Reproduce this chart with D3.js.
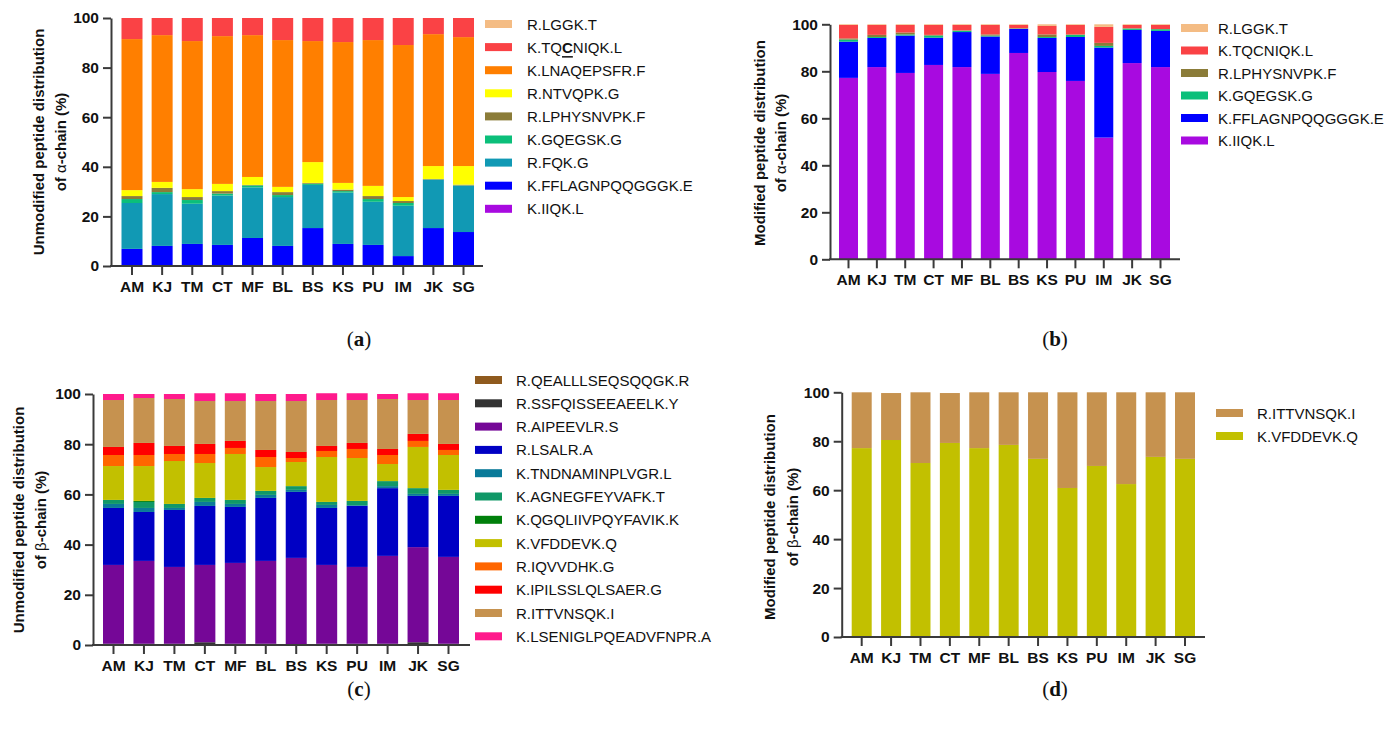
<!DOCTYPE html>
<html>
<head>
<meta charset="utf-8">
<script src="https://cdn.jsdelivr.net/npm/d3@7"></script>
<style>
  body { margin: 0; background: #fff; }
  svg { display: block; }
  text { font-family: Arial, "Liberation Sans", sans-serif; fill: #111; }
</style>
</head>
<body>
<svg id="chart" width="1389" height="733"></svg>
<script>
var samples = ["AM", "KJ", "TM", "CT", "MF", "BL", "BS", "KS", "PU", "IM", "JK", "SG"];
var yTicks = [0, 20, 40, 60, 80, 100];

// (a) unmodified alpha-chain peptides, bottom of the stack first
var alphaUnmodPeptides = ["K.IIQK.L", "K.FFLAGNPQQGGGK.E", "R.FQK.G", "K.GQEGSK.G", "R.LPHYSNVPK.F",
                          "R.NTVQPK.G", "K.LNAQEPSFR.F", "K.TQCNIQK.L", "R.LGGK.T"];
var aIIQK   = [0, 0, 0, 0, 0, 0, 0, 0, 0, 0, 0, 0];
var aFFLAG  = [6.9, 8.1, 8.9, 8.5, 11.3, 8.1, 15.3, 8.9, 8.5, 4.0, 15.3, 13.7];
var aFQK    = [18.5, 20.9, 16.2, 19.9, 20.4, 19.7, 17.4, 20.7, 17.4, 20.3, 19.5, 18.7];
var aGQEGSK = [1.6, 0.8, 1.5, 0.8, 0.8, 0.8, 0.5, 0.6, 1.1, 1.1, 0.1, 0.1];
var aLPHYS  = [1.2, 1.7, 1.2, 1.0, 0.2, 1.2, 0.3, 0.6, 1.2, 0.8, 0.2, 0.3];
var aNTVQPK = [2.4, 2.4, 3.2, 2.9, 3.2, 2.1, 8.4, 2.7, 4.1, 1.6, 5.2, 7.5];
var aLNAQ   = [60.9, 59.2, 59.7, 59.6, 57.2, 59.2, 48.8, 56.8, 58.8, 61.3, 53.2, 52.0];
var aTQCN   = [8.5, 6.9, 9.3, 7.3, 6.9, 8.9, 9.3, 9.7, 8.9, 10.9, 6.5, 7.7];
var aLGGK   = [0, 0, 0, 0, 0, 0, 0, 0, 0, 0, 0, 0];

// (b) modified alpha-chain peptides
var alphaModPeptides = ["K.IIQK.L", "K.FFLAGNPQQGGGK.E", "K.GQEGSK.G", "R.LPHYSNVPK.F", "K.TQCNIQK.L", "R.LGGK.T"];
var bIIQK   = [77.2, 81.8, 79.3, 82.7, 81.8, 78.9, 87.8, 79.7, 75.9, 51.8, 83.5, 81.8];
var bFFLAG  = [15.4, 12.4, 15.9, 11.6, 14.9, 15.9, 10.2, 14.5, 18.7, 38.3, 14.1, 15.4];
var bGQEGSK = [0.9, 0.4, 0.5, 0.9, 0.6, 0.4, 0.2, 0.4, 0.9, 0.7, 0.6, 0.7];
var bLPHYS  = [0.5, 0.9, 0.8, 0.3, 0.1, 0.5, 0.1, 1.1, 0.2, 1.3, 0.1, 0.1];
var bTQCN   = [5.7, 4.2, 3.2, 4.2, 2.3, 4.0, 1.4, 3.6, 4.0, 6.8, 1.4, 1.7];
var bLGGK   = [0.3, 0.3, 0.3, 0.3, 0.3, 0.3, 0.3, 0.7, 0.3, 1.1, 0.3, 0.3];

// (c) unmodified beta-chain peptides
var betaUnmodPeptides = ["R.QEALLLSEQSQQGK.R", "R.SSFQISSEEAEELK.Y", "R.AIPEEVLR.S", "R.LSALR.A",
                         "K.TNDNAMINPLVGR.L", "K.AGNEGFEYVAFK.T", "K.QGQLIIVPQYFAVIK.K", "K.VFDDEVK.Q",
                         "R.IQVVDHK.G", "K.IPILSSLQLSAER.G", "R.ITTVNSQK.I", "K.LSENIGLPQEADVFNPR.A"];
var cQEAL  = [0.2, 0.2, 0.2, 0.3, 0.2, 0.2, 0.1, 0.2, 0.2, 0.2, 0.3, 0.2];
var cSSFQ  = [0.3, 0.3, 0.3, 0.8, 0.3, 0.3, 0.2, 0.3, 0.3, 0.3, 0.8, 0.3];
var cAIPE  = [31.4, 33.0, 30.6, 30.8, 32.2, 33.0, 34.4, 31.4, 30.6, 35.0, 37.9, 34.6];
var cLSALR = [22.7, 19.5, 22.7, 23.5, 22.3, 25.1, 26.3, 22.7, 24.3, 27.0, 20.4, 24.3];
var cTNDN  = [1.6, 1.6, 0.8, 1.6, 1.2, 1.2, 0.8, 1.2, 0.3, 0.8, 0.8, 0.8];
var cAGNE  = [1.6, 2.4, 1.6, 1.6, 1.6, 1.6, 1.5, 1.2, 1.7, 2.0, 2.3, 1.6];
var cQGQL  = [0, 0.4, 0, 0, 0, 0, 0, 0, 0, 0, 0, 0];
var cVFDD  = [13.5, 13.9, 17.1, 13.9, 18.3, 9.5, 9.6, 17.9, 17.1, 6.8, 16.4, 13.9];
var cIQVV  = [4.4, 4.4, 2.8, 3.6, 2.4, 4.0, 1.6, 2.4, 3.6, 3.6, 2.4, 2.0];
var cIPIL  = [3.2, 4.8, 3.2, 4.0, 2.8, 2.8, 2.4, 2.0, 2.4, 2.4, 2.8, 2.4];
var cITTV  = [18.7, 17.9, 18.7, 17.1, 15.9, 19.5, 20.3, 18.3, 17.1, 19.9, 13.5, 17.5];
var cLSEN  = [2.4, 1.6, 2.0, 3.1, 3.1, 2.8, 2.8, 2.7, 2.7, 2.0, 2.7, 2.7];

// (d) modified beta-chain peptides
var betaModPeptides = ["K.VFDDEVK.Q", "R.ITTVNSQK.I"];
var dVFDD = [77.2, 80.5, 71.1, 79.3, 77.2, 78.5, 72.8, 60.9, 69.9, 62.5, 73.6, 72.8];
var dITTV = [22.8, 19.2, 28.9, 20.4, 22.8, 21.5, 27.2, 39.1, 30.1, 37.5, 26.4, 27.2];

var svg = d3.select("#chart");

function drawPanel(p) {
    var g = svg.append("g");

    var rows = samples.map(function (s, i) {
        var row = {sample: s};
        p.keys.forEach(function (k, j) { row[k] = p.values[j][i]; });
        return row;
    });
    var series = d3.stack().keys(p.keys)(rows);

    var step = (p.lastCenter - p.firstCenter) / (samples.length - 1);
    var pad = 1 - p.barWidth / step;
    var x = d3.scaleBand()
        .domain(samples)
        .range([p.firstCenter - step / 2, p.lastCenter + step / 2])
        .paddingInner(pad)
        .paddingOuter(pad / 2);
    var y = d3.scaleLinear().domain([0, 100]).range([p.yBottom, p.yTop]);
    var color = d3.scaleOrdinal().domain(p.keys).range(p.colors);

    g.selectAll("g.layer")
        .data(series)
        .enter().append("g")
        .attr("class", "layer")
        .attr("fill", function (d) { return color(d.key); })
        .selectAll("rect")
        .data(function (d) { return d; })
        .enter().append("rect")
        .attr("x", function (d) { return x(d.data.sample); })
        .attr("width", x.bandwidth())
        .attr("y", function (d) { return y(d[1]); })
        .attr("height", function (d) { return Math.max(0, y(d[0]) - y(d[1])); });

    // y axis
    var ya = g.append("g")
        .attr("transform", "translate(" + p.axisX + ",0)")
        .call(d3.axisLeft(y).tickValues(yTicks).tickSize(8).tickSizeOuter(0).tickPadding(4));
    // x axis
    var xa = g.append("g")
        .attr("transform", "translate(0," + p.yBottom + ")")
        .call(d3.axisBottom(x).tickSize(9).tickSizeOuter(0).tickPadding(6));
    xa.select(".domain").remove();
    xa.append("line")
        .attr("x1", p.axisX - 1).attr("x2", p.axisEnd)
        .attr("y1", 0).attr("y2", 0);

    [ya, xa].forEach(function (a) {
        a.selectAll("path, line").attr("stroke", "#3a3a3a").attr("stroke-width", 2);
        a.selectAll("text")
            .attr("fill", "#111")
            .style("font-size", "15.5px")
            .style("font-weight", "bold")
            .style("font-family", "Arial, 'Liberation Sans', sans-serif");
    });

    // y axis title, two lines
    p.yTitle.forEach(function (line, i) {
        var t = g.append("text")
            .attr("transform", "translate(" + p.yTitleX[i] + "," + p.yTitleY + ") rotate(-90)")
            .attr("text-anchor", "middle")
            .attr("dominant-baseline", "central")
            .style("font-size", "15px")
            .style("font-weight", "bold");
        line.forEach(function (part) {
            t.append("tspan")
                .style("font-weight", part.greek ? "normal" : "bold")
                .text(part.t);
        });
    });

    // legend: top of the stack first, unless the panel lists it bottom first
    var items = p.legendBottomFirst ? p.keys.slice() : p.keys.slice().reverse();
    var lg = g.append("g");
    items.forEach(function (k, i) {
        var cy = p.legY + i * p.legDy;
        lg.append("rect")
            .attr("x", p.legX).attr("y", cy - 4)
            .attr("width", 27).attr("height", 8)
            .attr("fill", color(k));
        var t = lg.append("text")
            .attr("x", p.legX + p.legGap).attr("y", cy)
            .attr("dominant-baseline", "central")
            .style("font-size", "15px");
        if (p.markC && k === "K.TQCNIQK.L") {
            t.append("tspan").text("K.TQ");
            t.append("tspan").style("font-weight", "bold")
                .style("text-decoration", "underline").text("C");
            t.append("tspan").text("NIQK.L");
        } else {
            t.text(k);
        }
    });

    // panel letter
    var sub = svg.append("text")
        .attr("x", p.subX).attr("y", p.subY)
        .attr("text-anchor", "middle")
        .attr("dominant-baseline", "central")
        .style("font-family", "'Liberation Serif', 'DejaVu Serif', serif")
        .style("font-size", "21px");
    sub.append("tspan").text("(");
    sub.append("tspan").style("font-weight", "bold").text(p.letter);
    sub.append("tspan").text(")");
}

drawPanel({
    keys: alphaUnmodPeptides,
    values: [aIIQK, aFFLAG, aFQK, aGQEGSK, aLPHYS, aNTVQPK, aLNAQ, aTQCN, aLGGK],
    colors: ["#a80ae0", "#0000ff", "#1199b4", "#0bbf7a", "#8b7c39", "#ffff00", "#ff7f00", "#fa4245", "#f4bc84"],
    axisX: 111, axisEnd: 483, yTop: 18, yBottom: 266,
    firstCenter: 132, lastCenter: 463.5, barWidth: 21,
    yTitle: [[{t: "Unmodified peptide distribution"}], [{t: "of "}, {t: "\u03b1", greek: true}, {t: "-chain (%)"}]],
    yTitleX: [38, 60], yTitleY: 142,
    legX: 485, legGap: 42, legY: 24, legDy: 23.1, markC: true,
    letter: "a", subX: 359, subY: 339
});

drawPanel({
    keys: alphaModPeptides,
    values: [bIIQK, bFFLAG, bGQEGSK, bLPHYS, bTQCN, bLGGK],
    colors: ["#a80ae0", "#0000ff", "#0bbf7a", "#8b7c39", "#fa4245", "#f4bc84"],
    axisX: 830, axisEnd: 1180, yTop: 24.3, yBottom: 259.3,
    firstCenter: 848.5, lastCenter: 1160.5, barWidth: 19,
    yTitle: [[{t: "Modified peptide distribution"}], [{t: "of "}, {t: "\u03b1", greek: true}, {t: "-chain (%)"}]],
    yTitleX: [759, 780], yTitleY: 143,
    legX: 1181, legGap: 37, legY: 28, legDy: 22.5,
    letter: "b", subX: 1055, subY: 339
});

drawPanel({
    keys: betaUnmodPeptides,
    values: [cQEAL, cSSFQ, cAIPE, cLSALR, cTNDN, cAGNE, cQGQL, cVFDD, cIQVV, cIPIL, cITTV, cLSEN],
    colors: ["#8f5a1e", "#333333", "#750797", "#0000c4", "#0a7a99", "#109867", "#00800b",
             "#c2c000", "#ff6600", "#ff0000", "#c6924f", "#ff1a8c"],
    axisX: 93, axisEnd: 470, yTop: 394, yBottom: 645,
    firstCenter: 113.5, lastCenter: 448.5, barWidth: 21,
    yTitle: [[{t: "Unmodified peptide distribution"}], [{t: "of "}, {t: "\u03b2", greek: true}, {t: "-chain (%)"}]],
    yTitleX: [18, 40], yTitleY: 520,
    legX: 475, legGap: 41, legY: 380, legDy: 23.3, legendBottomFirst: true,
    letter: "c", subX: 359, subY: 689
});

drawPanel({
    keys: betaModPeptides,
    values: [dVFDD, dITTV],
    colors: ["#c2c000", "#c6924f"],
    axisX: 841.7, axisEnd: 1205, yTop: 392.3, yBottom: 637,
    firstCenter: 861.7, lastCenter: 1185, barWidth: 20,
    yTitle: [[{t: "Modified peptide distribution"}], [{t: "of "}, {t: "\u03b2", greek: true}, {t: "-chain (%)"}]],
    yTitleX: [769, 792], yTitleY: 517,
    legX: 1216, legGap: 41, legY: 413, legDy: 23,
    letter: "d", subX: 1055, subY: 689
});
</script>
</body>
</html>
